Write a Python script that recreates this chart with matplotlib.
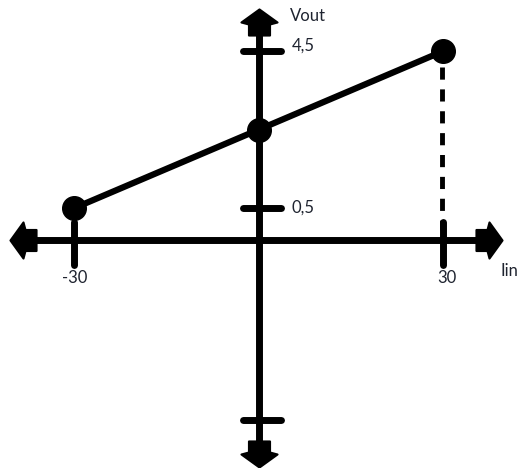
import numpy as np
import matplotlib
matplotlib.use('Agg')
import matplotlib.pyplot as plt
from matplotlib.path import Path

plt.rcParams['font.family'] = ['Lato', 'DejaVu Sans']

# data: Iin vs Vout
iin = [-30, 0, 30]
vout = [0.5, 2.5, 4.5]

x_ticks = [-30, 30]
x_tick_labels = ['-30', '30']
y_ticks = [0.5, 4.5, -4.9]
y_tick_labels = ['0,5', '4,5', '']

x_axis_level = -0.32   # hand drawn: horizontal axis sits a bit below 0
ink = 'black'
txt = '#1f2430'

fig = plt.figure(figsize=(5.23, 4.68), dpi=100)
ax = fig.add_axes([0, 0, 1, 1])
ax.set_xlim(-42.11, 42.93)
ax.set_ylim(-6.125, 5.80)
ax.axis('off')

# axes lines
ax.plot([-39.7, 37.5], [x_axis_level, x_axis_level], color=ink, lw=5, solid_capstyle='butt')
ax.plot([0, 0], [-5.8, 5.29], color=ink, lw=5, solid_capstyle='butt')


# "house" shaped arrowheads
def house(angle):
    v = np.array([(0, 13), (18, 0), (10.5, -2), (10.5, -13), (-10.5, -13),
                  (-10.5, -2), (-18, 0), (0, 13)], dtype=float)
    a = np.deg2rad(angle)
    r = np.array([[np.cos(a), -np.sin(a)], [np.sin(a), np.cos(a)]])
    return Path(v @ r.T, closed=True)


for (xx, yy, ang) in [(-38.4, x_axis_level, 90), (37.4, x_axis_level, -90),
                      (0, 5.24, 0), (0, -5.77, 180)]:
    ax.plot(xx, yy, marker=house(ang), markersize=26, color=ink, mec=ink, mew=1.5)

# ticks on x axis
for t, lab in zip(x_ticks, x_tick_labels):
    ax.plot([t, t], [x_axis_level + 0.46, x_axis_level - 0.63], color=ink, lw=5,
            solid_capstyle='round')
    ax.text(t + (0.6 if t > 0 else 0), -1.28, lab, ha='center', va='center',
            fontsize=12, color=txt)

# ticks on y axis
for t, lab in zip(y_ticks, y_tick_labels):
    ax.plot([-2.6, 3.6], [t, t], color=ink, lw=5, solid_capstyle='round')
    if lab:
        ax.text(5.3, t + (0.15 if t > 4 else 0), lab, ha='left', va='center',
                fontsize=12, color=txt)

# the line and its points
ax.plot(iin, vout, color=ink, lw=4.5, marker='o', markersize=17)

# dashed drop from the last point
ax.plot([iin[-1] - 0.3, iin[-1] - 0.3], [vout[-1] - 0.4, x_axis_level + 0.25],
        color=ink, lw=3.5, linestyle=(0, (2.5, 2)))

ax.text(5.0, 5.38, 'Vout', ha='left', va='center', fontsize=12, color=txt)
ax.text(39.2, -1.1, 'Iin', ha='left', va='center', fontsize=12, color=txt)

plt.savefig('out.png', dpi=100)
